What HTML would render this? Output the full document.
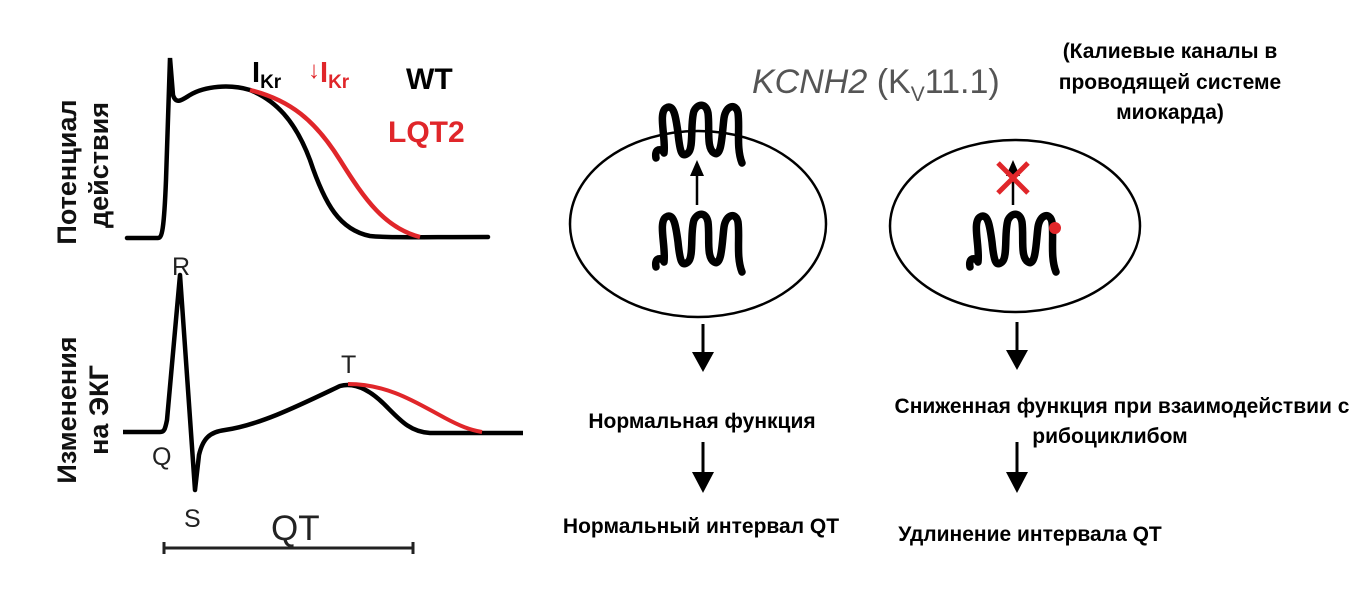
<!DOCTYPE html>
<html><head><meta charset="utf-8"><style>
html,body{margin:0;padding:0;background:#fff;}
svg{display:block;}
text{font-family:"Liberation Sans","DejaVu Sans",sans-serif;}
</style></head><body>
<svg width="1368" height="615" viewBox="0 0 1368 615" xmlns="http://www.w3.org/2000/svg">
<defs>
<path id="sq" d="M0,55 C-2,45 6,45 8,50 C10,35 2,10 10,5 C18,0 20,15 22,30 C24,50 26,55 32,50 C38,45 34,20 38,8 C42,0 50,0 52,10 C54,25 50,45 58,50 C66,55 66,30 68,15 C70,2 80,0 82,10 C84,25 80,45 86,60" fill="none" stroke="#000" stroke-width="7.5" stroke-linecap="round" stroke-linejoin="round"/>
</defs>
<!-- AP -->
<path d="M127,238 L158,238 C162,238 164,230 166,180 L170,58 L173,95 C176,105 182,100 190,95 C205,86 230,84 250,90 C275,100 295,120 310,160 C325,205 340,230 370,236 C390,238 420,237 488,237" fill="none" stroke="#000" stroke-width="4.5" stroke-linecap="round"/>
<path d="M250,90 C290,100 315,120 340,160 C365,200 385,228 420,237" fill="none" stroke="#e0262a" stroke-width="4.5"/>
<text x="252" y="82" font-size="29" font-weight="bold">I<tspan font-size="19" dy="6">Kr</tspan></text>
<text x="308" y="82" font-size="29" font-weight="bold" fill="#e0262a"><tspan font-size="24" dy="-4">↓</tspan><tspan dy="4">I</tspan><tspan font-size="19" dy="6">Kr</tspan></text>
<text x="406" y="89" font-size="30" font-weight="bold">WT</text>
<text x="388" y="142" font-size="30" font-weight="bold" fill="#e0262a">LQT2</text>
<!-- ECG -->
<path d="M123,432 L160,432 C164,432 165,430 167,420 L180,275 L195,490 L199,455 C203,438 210,432 225,430 C260,425 300,405 340,386 C355,382 370,390 385,405 C400,420 410,432 430,433 L523,433" fill="none" stroke="#000" stroke-width="4.5" stroke-linejoin="round"/>
<path d="M348,384 C390,384 420,405 445,418 C460,426 470,430 482,432" fill="none" stroke="#e0262a" stroke-width="4"/>
<text x="172" y="275" font-size="25" fill="#222">R</text>
<text x="152" y="465" font-size="25" fill="#222">Q</text>
<text x="184" y="527" font-size="25" fill="#222">S</text>
<text x="341" y="373" font-size="25" fill="#222">T</text>
<text x="271" y="540" font-size="35" fill="#222">QT</text>
<line x1="164" y1="548" x2="413" y2="548" stroke="#222" stroke-width="3"/>
<line x1="164" y1="542" x2="164" y2="554" stroke="#222" stroke-width="3"/>
<line x1="413" y1="542" x2="413" y2="554" stroke="#222" stroke-width="3"/>
<!-- vertical labels -->
<g font-size="27" font-weight="bold" text-anchor="middle" fill="#111">
<text transform="translate(76,172) rotate(-90)">Потенциал</text>
<text transform="translate(108,165) rotate(-90)">действия</text>
<text transform="translate(76,410) rotate(-90)">Изменения</text>
<text transform="translate(108,410) rotate(-90)">на ЭКГ</text>
</g>
<!-- right diagram -->
<text x="752" y="93" font-size="34" font-style="italic" fill="#555">KCNH2 <tspan font-style="normal">(K<tspan font-size="21" dy="8">V</tspan><tspan dy="-8">11.1)</tspan></tspan></text>
<ellipse cx="698" cy="224" rx="128" ry="93" fill="none" stroke="#000" stroke-width="2.5"/>
<ellipse cx="1015" cy="226" rx="125" ry="86" fill="none" stroke="#000" stroke-width="2.5"/>
<use href="#sq" x="656" y="103"/>
<use href="#sq" x="656" y="212"/>
<use href="#sq" x="970" y="212"/>
<line x1="697" y1="205" x2="697" y2="172" stroke="#000" stroke-width="2.5"/>
<polygon points="697,160 690,176 704,176"/>
<line x1="1013" y1="205" x2="1013" y2="172" stroke="#000" stroke-width="2.5"/>
<polygon points="1013,160 1006,176 1020,176"/>
<line x1="998" y1="163" x2="1028" y2="193" stroke="#e0262a" stroke-width="5"/>
<line x1="1028" y1="163" x2="998" y2="193" stroke="#e0262a" stroke-width="5"/>
<circle cx="1055" cy="228" r="6" fill="#e0262a"/>
<g font-size="21" font-weight="bold" text-anchor="middle">
<text x="1170" y="58">(Калиевые каналы в</text>
<text x="1170" y="89">проводящей системе</text>
<text x="1170" y="119">миокарда)</text>
<text x="702" y="428">Нормальная функция</text>
<text x="1122" y="413">Сниженная функция при взаимодействии с</text>
<text x="1110" y="443">рибоциклибом</text>
<text x="701" y="533">Нормальный интервал QT</text>
<text x="1030" y="541">Удлинение интервала QT</text>
</g>
<g stroke="#000" stroke-width="3">
<line x1="703" y1="324" x2="703" y2="362"/><line x1="1017" y1="322" x2="1017" y2="360"/>
<line x1="703" y1="442" x2="703" y2="482"/><line x1="1017" y1="442" x2="1017" y2="482"/>
</g>
<g>
<polygon points="692,352 714,352 703,372"/><polygon points="1006,350 1028,350 1017,370"/>
<polygon points="692,472 714,472 703,493"/><polygon points="1006,472 1028,472 1017,493"/>
</g>
</svg>
</body></html>
